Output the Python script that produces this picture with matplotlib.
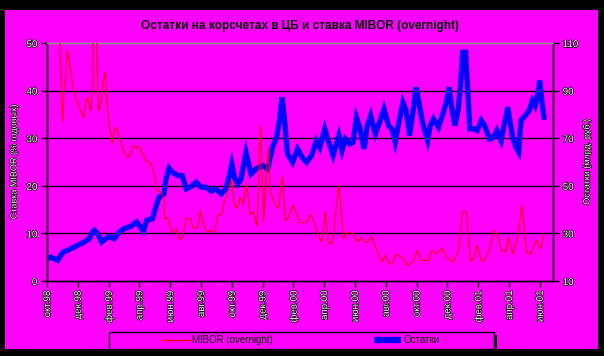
import matplotlib
matplotlib.use('Agg')
import matplotlib.pyplot as plt
import matplotlib.patheffects as pe
from matplotlib.patches import Rectangle
from matplotlib.lines import Line2D

plt.rcParams['font.family'] = ['Liberation Sans', 'DejaVu Sans']

title = 'Остатки на корсчетах в ЦБ и ставка MIBOR (overnight)'
left_label = 'Ставка MIBOR (% годовых)'
right_label = 'Остатки (млрд. руб.)'
series_names = ['MIBOR (overnight)', 'Остатки']

tick_labels = ['окт.98', 'дек.98', 'фев.99', 'апр.99', 'июн.99', 'авг.99', 'окт.99',
               'дек.99', 'фев.00', 'апр.00', 'июн.00', 'авг.00', 'окт.00', 'дек.00',
               'фев.01', 'апр.01', 'июн.01']

# time in months since October 1998
mibor_month = [0, 0.80, 0.93, 1.01, 1.12, 1.23, 1.30, 1.45, 1.66, 1.88, 2.09, 2.38, 2.53, 2.63,
               2.85, 2.96, 3.02, 3.17, 3.35, 3.54, 3.67, 3.78, 3.93, 4.04, 4.25, 4.41, 4.54,
               4.75, 5.01, 5.23, 5.44, 5.62, 5.87, 6.09, 6.41, 6.74, 6.95, 7.17, 7.39, 7.56,
               7.65, 7.86, 7.99, 8.14, 8.39, 8.60, 8.82, 9.04, 9.30, 9.51, 9.79, 9.97, 10.12,
               10.33, 10.66, 10.87, 11.09, 11.37, 11.52, 11.63, 11.84, 12.0, 12.17, 12.34,
               12.54, 12.75, 12.97, 13.18, 13.40, 13.64, 13.75, 13.85, 13.96, 14.07, 14.22,
               14.39, 14.50, 14.65, 14.82, 15.04, 15.21, 15.30, 15.47, 15.69, 15.95, 16.16,
               16.43, 16.86, 17.14, 17.35, 17.61, 17.83, 17.94, 18.09, 18.26, 18.47, 18.65,
               18.80, 18.95, 19.08, 19.23, 19.44, 19.66, 19.88, 20.16, 20.41, 20.63, 20.84,
               21.06, 21.38, 21.60, 21.75, 21.97, 22.25, 22.40, 22.68, 23.04, 23.43, 23.75,
               24.03, 24.25, 24.47, 24.78, 24.99, 25.27, 25.64, 25.96, 26.39, 26.71, 26.99,
               27.24, 27.50, 27.71, 27.93, 28.21, 28.42, 28.74, 29.06, 29.28, 29.49, 29.77,
               29.98, 30.24, 30.56, 30.84, 31.14, 31.42, 31.78, 32.06, 32.27]
mibor = [60, 52, 41.4, 33.4, 40.7, 42.8, 48.4, 46.3, 41.4, 38.3, 36.5, 34.4, 37.6, 38.6,
         35.8, 40.7, 55, 55, 35.8, 38.3, 42.1, 43.8, 36.5, 32.7, 28.8, 32.3, 32.0,
         29.5, 27.1, 26.0, 26.7, 28.5, 28.1, 27.8, 25.3, 24.8, 22.5, 19.0, 18.7, 17.6,
         13.1, 13.1, 11.7, 10.1, 11.0, 8.7, 9.2, 13.1, 13.1, 11.1, 11.2, 14.8, 12.4,
         10.5, 10.5, 10.3, 13.8, 14.1, 16.9, 17.6, 19.7, 21.1, 16.2, 15.2,
         17.6, 16.2, 20.4, 14.1, 14.5, 11.5, 21.1, 32.7, 23.9, 12.4, 21.8,
         28.1, 18.3, 17.6, 15.9, 15.2, 20.4, 21.8, 12.7, 13.4, 15.9, 14.5,
         12.2, 12.4, 14.0, 12.4, 9.6, 8.2, 10.6, 14.5, 8.2, 7.7, 10.3,
         16.2, 20.1, 16.2, 8.9, 9.9, 10.3, 9.9, 8.2, 9.2, 8.2, 8.2,
         9.4, 6.8, 5.0, 4.0, 5.4, 3.5, 3.6, 5.6, 5.0, 3.3, 4.0,
         6.4, 4.7, 4.3, 4.3, 6.4, 5.7, 6.8, 5.0, 4.0, 6.4, 14.5,
         14.5, 4.2, 4.7, 7.5, 4.3, 4.3, 6.8, 10.6, 9.8, 6.4, 6.1,
         9.2, 5.7, 9.2, 15.9, 6.1, 5.7, 8.7, 6.8, 10.1]

ost_month = [0, 0.26, 0.69, 1.02, 1.56, 1.99, 2.42, 2.74, 2.96, 3.07, 3.28, 3.54, 3.71, 4.04,
             4.36, 4.69, 5.01, 5.44, 5.83, 5.98, 6.26, 6.48, 6.85, 7.06, 7.28, 7.60, 7.71,
             7.93, 8.14, 8.50, 8.78, 9.04, 9.36, 9.68, 10.01, 10.33, 10.66, 10.98, 11.30,
             11.63, 11.84, 12.0, 12.17, 12.38, 12.60, 12.92, 13.25, 13.57, 14.0, 14.33,
             14.65, 14.91, 15.13, 15.26, 15.41, 15.62, 15.95, 16.27, 16.64, 16.86, 17.18,
             17.50, 17.72, 18.04, 18.26, 18.58, 18.95, 19.16, 19.38, 19.66, 19.88, 20.09,
             20.31, 20.59, 20.80, 21.02, 21.32, 21.60, 21.88, 22.18, 22.40, 22.61, 22.83,
             23.11, 23.32, 23.54, 23.75, 23.97, 24.23, 24.46, 24.72, 24.89, 25.10, 25.42,
             25.74, 25.96, 26.11, 26.28, 26.49, 26.71, 26.86, 26.99, 27.18, 27.31, 27.46,
             27.71, 27.93, 28.21, 28.42, 28.74, 29.0, 29.21, 29.49, 29.70, 29.92, 30.24,
             30.45, 30.63, 30.78, 31.05, 31.31, 31.52, 31.70, 31.85, 32.0, 32.12, 32.27]
ostatki = [19.4, 20.0, 18.7, 22.0, 23.6, 25.0, 26.4, 27.8, 30.6, 31.3, 29.9, 26.4, 27.3, 28.7,
           27.8, 30.6, 32.0, 33.0, 34.8, 33.4, 31.0, 35.5, 36.2, 41.0, 45.2, 46.6, 52.2,
           57.4, 55.7, 54.3, 54.3, 48.7, 49.7, 51.5, 49.4, 49.4, 47.8, 48.7, 46.6,
           48.7, 54.3, 59.2, 53.6, 50.8, 52.9, 64.1, 55.0, 57.1, 58.5, 57.1,
           66.2, 70.4, 78.8, 87.2, 78.8, 63.4, 59.9, 65.5, 61.3, 59.9, 62.7,
           69.0, 66.2, 73.9, 69.0, 62.7, 71.1, 64.8, 69.7, 67.6, 68.3, 78.8,
           74.6, 65.5, 75.3, 79.5, 71.8, 76.7, 82.3, 75.3, 73.9, 68.3, 76.0,
           85.1, 81.6, 71.1, 80.2, 91.4, 82.3, 74.6, 69.0, 75.3, 78.1, 74.6,
           80.9, 85.8, 91.4, 83.0, 75.3, 82.3, 92.8, 106.1, 106.1, 91.4, 73.9,
           73.9, 73.2, 77.4, 75.3, 69.7, 70.4, 73.2, 69.0, 76.0, 83.0, 70.4,
           66.2, 64.1, 77.4, 79.5, 81.6, 85.8, 83.7, 87.9, 94.2, 86.5, 78.8]

MAG = '#ff00ff'
W, H = 604, 356

fig = plt.figure(figsize=(W / 100, H / 100), dpi=100, facecolor='black')
fig.patches.append(Rectangle((5 / W, 1 - 349 / H), 593 / W, 339 / H, transform=fig.transFigure,
                             facecolor=MAG, edgecolor='none', zorder=-5))

ax = fig.add_axes([47 / W, 1 - 281 / H, 506 / W, 238 / H])
ax2 = ax.twinx()
ax.set_zorder(ax2.get_zorder() + 1)
ax.patch.set_visible(False)
ax2.patch.set_facecolor(MAG)

ax2.plot(ost_month, ostatki, color='#0000ff', lw=3.8, solid_joinstyle='miter', zorder=2)
ax.plot(mibor_month, mibor, color='#ff0000', lw=0.8, zorder=3)

xt = list(range(0, 2 * len(tick_labels), 2))
ax.set_xlim(0, 32.86)
ax.set_xticks(xt)
ax.set_xticklabels(tick_labels, rotation=90, va='top', ha='center')
ax.set_ylim(0, 50)
ax.set_yticks(range(0, 51, 10))
ax2.set_ylim(10, 110)
ax2.set_yticks(range(10, 111, 20))

ax2.yaxis.grid(True, color='black', lw=1.0)
ax2.set_axisbelow(True)
for t in ax2.yaxis.get_major_ticks()[-1:] + ax2.yaxis.get_major_ticks()[:1]:
    t.gridline.set_visible(False)

for a in (ax, ax2):
    for s in ('left', 'right', 'bottom'):
        a.spines[s].set_color('black')
        a.spines[s].set_linewidth(1.0)
    a.spines['top'].set_color('#909090')
    a.spines['top'].set_linewidth(1.0)
    a.tick_params(direction='out', length=4, width=1, color='black', labelsize=7,
                  labelcolor='white', pad=3)

stroke = [pe.withStroke(linewidth=1.0, foreground='black')]
for lab in ax.get_xticklabels() + ax.get_yticklabels() + ax2.get_yticklabels():
    lab.set_path_effects(stroke)

fig.text(300 / W, 1 - 26 / H, title, ha='center', va='center', fontsize=8.5,
         fontweight='bold', color='black')
fig.text(14 / W, 1 - 162 / H, left_label, rotation=90, ha='center', va='center',
         fontsize=6.5, color='white', path_effects=stroke)
fig.text(587 / W, 1 - 162 / H, right_label, rotation=90, ha='center', va='center',
         fontsize=6.5, color='white', path_effects=stroke)

# legend box with shadow
fig.patches.append(Rectangle((112 / W, 1 - 352 / H), 385 / W, 17 / H, transform=fig.transFigure,
                             facecolor='black', edgecolor='none', zorder=1))
fig.patches.append(Rectangle((109 / W, 1 - 349 / H), 385 / W, 17 / H, transform=fig.transFigure,
                             facecolor=MAG, edgecolor='black', lw=1, zorder=2))
handles = [Line2D([], [], color='#ff0000', lw=1),
           Line2D([], [], color='#0000ff', lw=4.5, solid_capstyle='butt')]
leg = fig.legend(handles, series_names, loc='center', bbox_to_anchor=(301 / W, 1 - 340 / H),
                 ncol=2, frameon=False, fontsize=7, handlelength=2.8, handletextpad=0.25,
                 columnspacing=10.4)
leg.set_zorder(5)

fig.savefig('out.png', dpi=100, facecolor='black')
